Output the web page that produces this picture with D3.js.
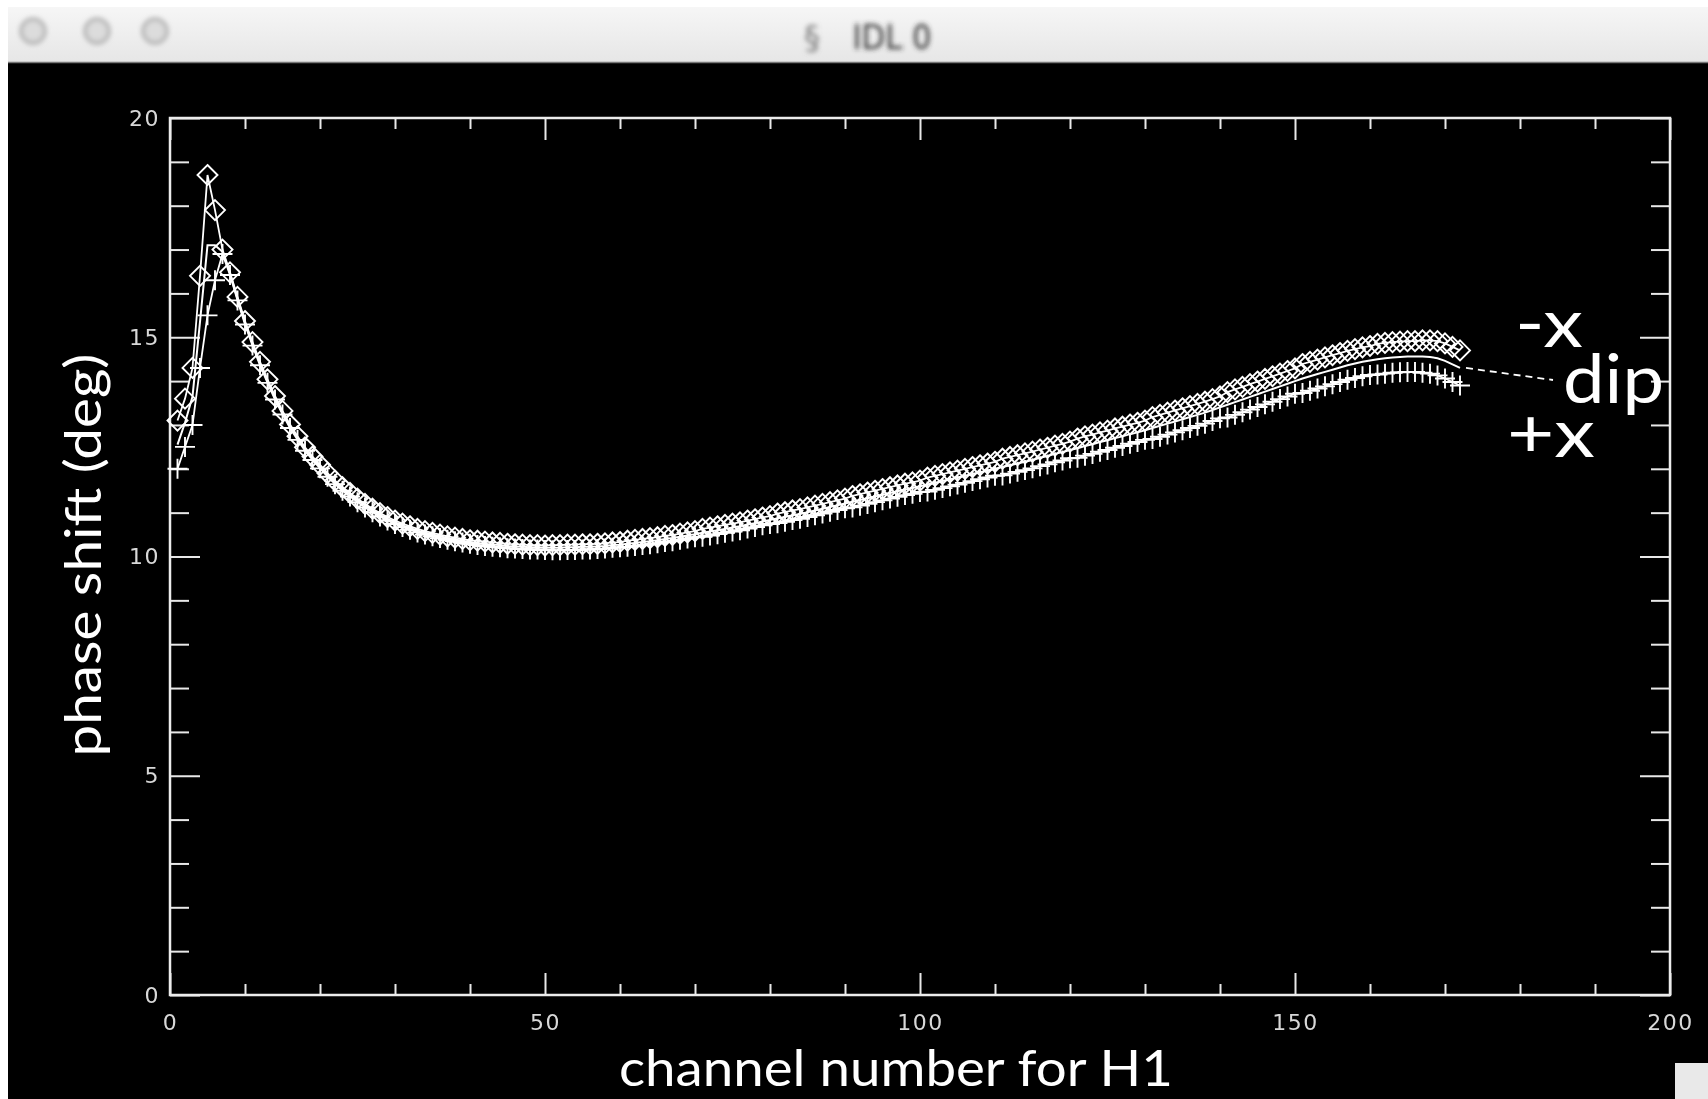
<!DOCTYPE html>
<html>
<head>
<meta charset="utf-8">
<script src="https://cdn.jsdelivr.net/npm/d3@7"></script>
<style>
  html, body { margin: 0; padding: 0; background: #fff; overflow: hidden; }
</style>
</head>
<body>
<script>
// ---- data ----
var channels = d3.range(1, 173)

// -x (diamonds)
var minusX = [
  13.10,13.60,14.30,16.40,18.70,17.90,17.00,16.48,15.92,15.37,
  14.89,14.44,14.04,13.66,13.32,13.01,12.74,12.49,12.28,12.09,
  11.90,11.73,11.58,11.45,11.32,11.20,11.09,10.99,10.90,10.82,
  10.75,10.69,10.63,10.58,10.54,10.50,10.46,10.43,10.40,10.37,
  10.36,10.34,10.32,10.31,10.29,10.28,10.27,10.26,10.26,10.25,
  10.26,10.26,10.27,10.27,10.28,10.28,10.29,10.30,10.32,10.33,
  10.36,10.38,10.40,10.42,10.44,10.47,10.49,10.52,10.55,10.58,
  10.63,10.66,10.69,10.72,10.75,10.78,10.82,10.85,10.89,10.92,
  10.98,11.01,11.05,11.08,11.12,11.16,11.20,11.24,11.28,11.32,
  11.38,11.42,11.46,11.50,11.54,11.58,11.62,11.66,11.69,11.73,
  11.80,11.84,11.88,11.92,11.96,12.00,12.04,12.08,12.12,12.16,
  12.23,12.27,12.31,12.35,12.39,12.44,12.48,12.53,12.57,12.62,
  12.69,12.74,12.78,12.83,12.87,12.92,12.96,13.01,13.05,13.10,
  13.18,13.23,13.28,13.33,13.38,13.43,13.48,13.53,13.59,13.65,
  13.75,13.81,13.87,13.93,13.99,14.05,14.11,14.17,14.23,14.29,
  14.39,14.44,14.49,14.54,14.59,14.64,14.69,14.73,14.77,14.80,
  14.85,14.87,14.89,14.90,14.91,14.91,14.93,14.93,14.91,14.86,
  14.78,14.70
]

// +x (plus signs)
var plusX = [
  12.00,12.50,13.00,14.30,15.50,16.30,16.90,16.42,15.84,15.29,
  14.81,14.36,13.96,13.58,13.24,12.93,12.66,12.41,12.20,12.01,
  11.82,11.65,11.50,11.37,11.24,11.12,11.01,10.91,10.82,10.74,
  10.67,10.61,10.55,10.50,10.46,10.42,10.38,10.35,10.32,10.29,
  10.26,10.24,10.22,10.21,10.19,10.18,10.17,10.16,10.16,10.15,
  10.14,10.14,10.15,10.15,10.16,10.16,10.17,10.18,10.20,10.21,
  10.22,10.24,10.26,10.28,10.30,10.33,10.35,10.38,10.41,10.44,
  10.45,10.48,10.51,10.54,10.57,10.60,10.64,10.67,10.71,10.74,
  10.76,10.79,10.83,10.86,10.90,10.94,10.98,11.02,11.06,11.10,
  11.12,11.16,11.20,11.24,11.28,11.32,11.36,11.40,11.43,11.47,
  11.48,11.52,11.56,11.60,11.64,11.68,11.72,11.76,11.80,11.84,
  11.85,11.89,11.93,11.97,12.01,12.06,12.10,12.15,12.19,12.24,
  12.25,12.30,12.34,12.39,12.43,12.48,12.52,12.57,12.61,12.66,
  12.68,12.73,12.78,12.83,12.88,12.93,12.98,13.03,13.09,13.15,
  13.17,13.23,13.29,13.35,13.41,13.47,13.53,13.59,13.65,13.71,
  13.73,13.78,13.83,13.88,13.93,13.98,14.03,14.07,14.11,14.14,
  14.15,14.17,14.19,14.20,14.21,14.21,14.19,14.17,14.13,14.06,
  13.98,13.90
]

// dip (plain line)
var dipVals = [
  12.55,13.05,13.65,15.35,17.10,17.10,16.95,16.45,15.88,15.33,
  14.85,14.40,14.00,13.62,13.28,12.97,12.70,12.45,12.24,12.05,
  11.86,11.69,11.54,11.41,11.28,11.16,11.05,10.95,10.86,10.78,
  10.71,10.65,10.59,10.54,10.50,10.46,10.42,10.39,10.36,10.33,
  10.31,10.29,10.27,10.26,10.24,10.23,10.22,10.21,10.21,10.20,
  10.20,10.20,10.21,10.21,10.22,10.22,10.23,10.24,10.26,10.27,
  10.29,10.31,10.33,10.35,10.37,10.40,10.42,10.45,10.48,10.51,
  10.54,10.57,10.60,10.63,10.66,10.69,10.73,10.76,10.80,10.83,
  10.87,10.90,10.94,10.97,11.01,11.05,11.09,11.13,11.17,11.21,
  11.25,11.29,11.33,11.37,11.41,11.45,11.49,11.53,11.56,11.60,
  11.64,11.68,11.72,11.76,11.80,11.84,11.88,11.92,11.96,12.00,
  12.04,12.08,12.12,12.16,12.20,12.25,12.29,12.34,12.38,12.43,
  12.47,12.52,12.56,12.61,12.65,12.70,12.74,12.79,12.83,12.88,
  12.93,12.98,13.03,13.08,13.13,13.18,13.23,13.28,13.34,13.40,
  13.46,13.52,13.58,13.64,13.70,13.76,13.82,13.88,13.94,14.00,
  14.06,14.11,14.16,14.21,14.26,14.31,14.36,14.40,14.44,14.47,
  14.50,14.52,14.54,14.55,14.56,14.56,14.56,14.55,14.52,14.46,
  14.38,14.30
]

var xMajor = [0, 50, 100, 150, 200]
var xMinor = [10, 20, 30, 40, 60, 70, 80, 90, 110, 120, 130, 140, 160, 170, 180, 190]
var yMajor = [0, 5, 10, 15, 20]
var yMinor = [1, 2, 3, 4, 6, 7, 8, 9, 11, 12, 13, 14, 16, 17, 18, 19]

var xTitle = 'channel number for H1'
var yTitle = 'phase shift (deg)'
var windowTitle = 'IDL 0'

// ---- page / window chrome ----
var W = 1708, H = 1099
var svg = d3.select('body').append('svg')
  .attr('width', W)
  .attr('height', H)

var defs = svg.append('defs')
var grad = defs.append('linearGradient')
  .attr('id', 'titlebar')
  .attr('x1', 0).attr('y1', 0).attr('x2', 0).attr('y2', 1)
grad.append('stop').attr('offset', '0%').attr('stop-color', '#f6f6f6')
grad.append('stop').attr('offset', '100%').attr('stop-color', '#e6e6e6')

defs.append('filter').attr('id', 'soft')
  .append('feGaussianBlur').attr('stdDeviation', 0.75)
defs.append('filter').attr('id', 'blurry')
  .attr('x', '-50%').attr('y', '-50%').attr('width', '200%').attr('height', '200%')
  .append('feGaussianBlur').attr('stdDeviation', 2.6)

svg.append('rect').attr('width', W).attr('height', H).attr('fill', '#fff')
svg.append('rect')
  .attr('x', 8).attr('y', 7).attr('width', W - 8).attr('height', 56)
  .attr('fill', 'url(#titlebar)')
svg.append('rect')
  .attr('x', 8).attr('y', 63).attr('width', W - 8).attr('height', H - 63)
  .attr('fill', '#000')
svg.append('line')
  .attr('x1', 8).attr('x2', W).attr('y1', 62.5).attr('y2', 62.5)
  .attr('stroke', '#777').attr('stroke-width', 1.5)

// faded window buttons + title
var chrome = svg.append('g').attr('filter', 'url(#blurry)')
chrome.selectAll('circle')
  .data([33, 97, 155])
  .enter().append('circle')
  .attr('cx', function (d) { return d })
  .attr('cy', 31)
  .attr('r', 12)
  .attr('fill', '#dcdcdc')
  .attr('stroke', '#9a9a9a')
  .attr('stroke-width', 2.5)
chrome.append('text')
  .attr('x', 812).attr('y', 48)
  .attr('text-anchor', 'middle')
  .attr('font-family', 'DejaVu Sans')
  .attr('font-size', 32)
  .attr('fill', '#777')
  .text('\u00a7')
chrome.append('text')
  .attr('x', 892).attr('y', 49)
  .attr('text-anchor', 'middle')
  .attr('font-family', 'DejaVu Sans Condensed, DejaVu Sans')
  .attr('font-size', 34)
  .attr('fill', '#333')
  .text(windowTitle)

// resize grip bottom-right
svg.append('rect')
  .attr('x', 1675).attr('y', 1063).attr('width', 33).attr('height', 36)
  .attr('fill', '#e9e9e9')

// ---- plot ----
var x = d3.scaleLinear().domain([0, 200]).range([170, 1670])
var y = d3.scaleLinear().domain([0, 20]).range([995, 118])

var plot = svg.append('g').attr('filter', 'url(#soft)')

function styleAxis (g) {
  g.select('.domain').remove()
  g.selectAll('line').attr('stroke', '#e8e8e8').attr('stroke-width', 2)
  g.selectAll('text')
    .attr('fill', '#d8d8d8')
    .attr('font-family', 'DejaVu Sans')
    .attr('font-size', 22)
    .attr('letter-spacing', 1.5)
}

// bottom + top
plot.append('g').attr('transform', 'translate(0,' + y(0) + ')')
  .call(d3.axisBottom(x).tickValues(xMajor).tickSize(-22).tickPadding(19).tickFormat(d3.format('d')))
  .call(styleAxis)
plot.append('g').attr('transform', 'translate(0,' + y(0) + ')')
  .call(d3.axisBottom(x).tickValues(xMinor).tickSize(-11).tickFormat(''))
  .call(styleAxis)
plot.append('g').attr('transform', 'translate(0,' + y(20) + ')')
  .call(d3.axisTop(x).tickValues(xMajor).tickSize(-22).tickFormat(''))
  .call(styleAxis)
plot.append('g').attr('transform', 'translate(0,' + y(20) + ')')
  .call(d3.axisTop(x).tickValues(xMinor).tickSize(-11).tickFormat(''))
  .call(styleAxis)

// left + right
plot.append('g').attr('transform', 'translate(' + x(0) + ',0)')
  .call(d3.axisLeft(y).tickValues(yMajor).tickSize(-30).tickPadding(10).tickFormat(d3.format('d')))
  .call(styleAxis)
plot.append('g').attr('transform', 'translate(' + x(0) + ',0)')
  .call(d3.axisLeft(y).tickValues(yMinor).tickSize(-19).tickFormat(''))
  .call(styleAxis)
plot.append('g').attr('transform', 'translate(' + x(200) + ',0)')
  .call(d3.axisRight(y).tickValues(yMajor).tickSize(-30).tickFormat(''))
  .call(styleAxis)
plot.append('g').attr('transform', 'translate(' + x(200) + ',0)')
  .call(d3.axisRight(y).tickValues(yMinor).tickSize(-19).tickFormat(''))
  .call(styleAxis)

// the box
plot.append('rect')
  .attr('x', x(0)).attr('y', y(20))
  .attr('width', x(200) - x(0)).attr('height', y(0) - y(20))
  .attr('fill', 'none')
  .attr('stroke', '#ececec')
  .attr('stroke-width', 2.5)

// series
function seriesPoints (vals) {
  return channels.map(function (c, i) { return [c, vals[i]] })
}

var line = d3.line()
  .x(function (d) { return x(d[0]) })
  .y(function (d) { return y(d[1]) })

var diamond = 'M0,-10L10,0L0,10L-10,0Z'
var plus = 'M-10,0H10M0,-10V10'

var series = [
  { name: '-x', vals: minusX, marker: diamond, width: 1.8 },
  { name: '+x', vals: plusX, marker: plus, width: 1.8 },
  { name: 'dip', vals: dipVals, marker: null, width: 2 }
]

series.forEach(function (s) {
  var pts = seriesPoints(s.vals)
  plot.append('path')
    .datum(pts)
    .attr('d', line)
    .attr('fill', 'none')
    .attr('stroke', '#fff')
    .attr('stroke-width', s.width)

  if (s.marker) {
    plot.append('g').selectAll('path')
      .data(pts)
      .enter().append('path')
      .attr('transform', function (d) { return 'translate(' + x(d[0]) + ',' + y(d[1]) + ')' })
      .attr('d', s.marker)
      .attr('fill', 'none')
      .attr('stroke', '#fff')
      .attr('stroke-width', 1.9)
  }
})

// axis titles
svg.append('text')
  .attr('x', 896).attr('y', 1086)
  .attr('text-anchor', 'middle')
  .attr('font-family', 'Lato')
  .attr('font-size', 50)
  .attr('fill', '#fff')
  .attr('textLength', 554)
  .attr('lengthAdjust', 'spacingAndGlyphs')
  .text(xTitle)

svg.append('text')
  .attr('transform', 'translate(101,555) rotate(-90)')
  .attr('text-anchor', 'middle')
  .attr('font-family', 'Lato')
  .attr('font-size', 50)
  .attr('fill', '#fff')
  .attr('textLength', 403)
  .attr('lengthAdjust', 'spacingAndGlyphs')
  .text(yTitle)

// curve labels on the right
var lastDip = dipVals[dipVals.length - 1]
svg.append('line')
  .attr('x1', x(channels[channels.length - 1]) + 6).attr('y1', y(lastDip))
  .attr('x2', 1553).attr('y2', 380)
  .attr('stroke', '#fff')
  .attr('stroke-width', 1.8)
  .attr('stroke-dasharray', '7,5')

var labels = [
  { text: '-x', x: 1515, y: 347, len: 68 },
  { text: 'dip', x: 1563, y: 403, len: 101 },
  { text: '+x', x: 1507, y: 457, len: 88 }
]
svg.append('g').selectAll('text')
  .data(labels)
  .enter().append('text')
  .attr('x', function (d) { return d.x })
  .attr('y', function (d) { return d.y })
  .attr('font-family', 'Lato')
  .attr('font-size', 68)
  .attr('fill', '#fff')
  .attr('textLength', function (d) { return d.len })
  .attr('lengthAdjust', 'spacingAndGlyphs')
  .text(function (d) { return d.text })
</script>
</body>
</html>
